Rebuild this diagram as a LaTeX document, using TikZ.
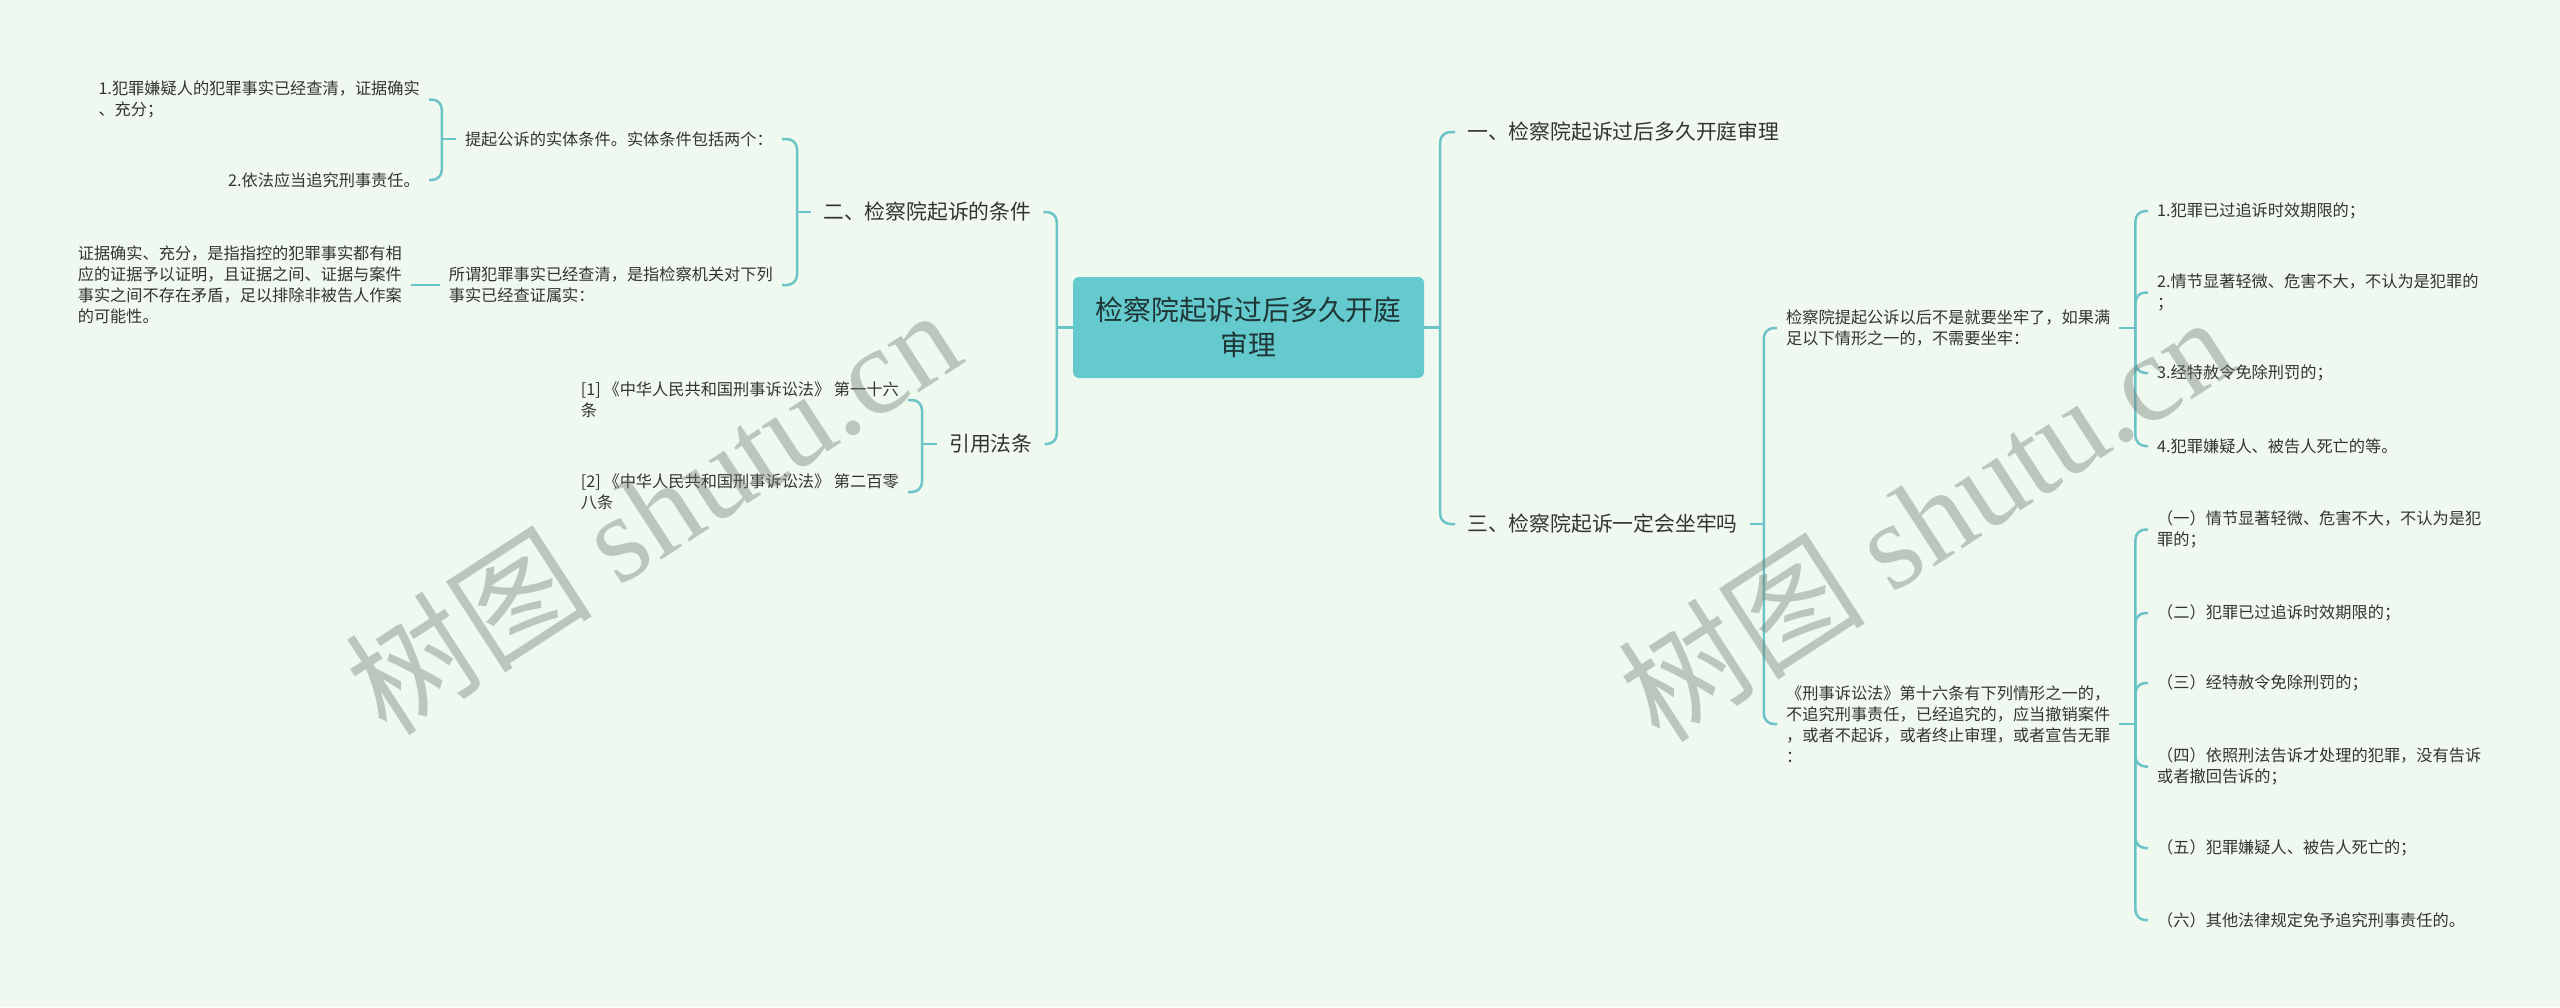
\documentclass[tikz,border=0pt]{standalone}
\usepackage{fontspec}
\setmainfont{Noto Sans CJK SC}
\newfontfamily\wmlatin{Liberation Serif}
\newfontfamily\wmcjk{Noto Sans CJK SC}
\definecolor{bg}{HTML}{F0F9F0}
\definecolor{ln}{HTML}{6CC3C8}
\definecolor{rootfill}{HTML}{64CACD}
\definecolor{roottext}{HTML}{1F3536}
\definecolor{txt}{HTML}{333333}
\definecolor{wm}{HTML}{6E7A72}
\begin{document}
\begin{tikzpicture}[x=1pt,y=-1pt,
  conn/.style={draw=ln,line width=2.5pt,rounded corners=10pt},
  tick/.style={draw=ln,line width=2.5pt},
  leaf/.style={inner xsep=9pt,inner ysep=2pt,align=left,text=txt,font=\fontsize{16.2}{21}\selectfont},
  lvone/.style={inner xsep=12pt,inner ysep=2pt,text=txt,font=\fontsize{20.8}{26}\selectfont},
  rootbox/.style={fill=rootfill,rounded corners=6pt,minimum width=351pt,minimum height=101pt,align=center,text=roottext,font=\fontsize{27.8}{35}\selectfont},
  wmark/.style={rotate=33,text=wm,opacity=0.4}
]
\fill[bg] (0,0) rectangle (2560,1007);
\useasboundingbox (0,0) rectangle (2560,1007);

% root
\node[rootbox] (root) at (1248.5,327.5) {检察院起诉过后多久开庭\\审理};

% level one
\node[lvone,anchor=west] (L1a) at (811,212) {二、检察院起诉的条件};
\node[lvone,anchor=west] (L1b) at (937,444) {引用法条};
\node[lvone,anchor=west] (R1a) at (1455,132) {一、检察院起诉过后多久开庭审理};
\node[lvone,anchor=west] (R1b) at (1455,524) {三、检察院起诉一定会坐牢吗};

% left leaves
\node[leaf,anchor=east] (L2a) at (782,139) {提起公诉的实体条件。实体条件包括两个：};
\node[leaf,anchor=east] (L2b) at (782,285) {所谓犯罪事实已经查清，是指检察机关对下列\\事实已经查证属实：};
\node[leaf,anchor=east] (L3a) at (429,99.5) {1.犯罪嫌疑人的犯罪事实已经查清，证据确实\\、充分；};
\node[leaf,anchor=east] (L3b) at (429,180) {2.依法应当追究刑事责任。};
\node[leaf,anchor=east] (L3c) at (411,285) {证据确实、充分，是指指控的犯罪事实都有相\\应的证据予以证明，且证据之间、证据与案件\\事实之间不存在矛盾，足以排除非被告人作案\\的可能性。};
\node[leaf,anchor=east] (C1) at (908,400) {[1]\,《中华人民共和国刑事诉讼法》 第一十六\\条};
\node[leaf,anchor=east] (C2) at (908,492) {[2]\,《中华人民共和国刑事诉讼法》 第二百零\\八条};

% right leaves
\node[leaf,anchor=west] (R2a) at (1777,328) {检察院提起公诉以后不是就要坐牢了，如果满\\足以下情形之一的，不需要坐牢：};
\node[leaf,anchor=west] (R2b) at (1777,724) {《刑事诉讼法》第十六条有下列情形之一的，\\不追究刑事责任，已经追究的，应当撤销案件\\，或者不起诉，或者终止审理，或者宣告无罪\\：};
\node[leaf,anchor=west] (A1) at (2148,211) {1.犯罪已过追诉时效期限的；};
\node[leaf,anchor=west] (A2) at (2148,292.5) {2.情节显著轻微、危害不大，不认为是犯罪的\\；};
\node[leaf,anchor=west] (A3) at (2148,373) {3.经特赦令免除刑罚的；};
\node[leaf,anchor=west] (A4) at (2148,446) {4.犯罪嫌疑人、被告人死亡的等。};
\node[leaf,anchor=west] (B1) at (2148,529.5) {（一）情节显著轻微、危害不大，不认为是犯\\罪的；};
\node[leaf,anchor=west] (B2) at (2148,613) {（二）犯罪已过追诉时效期限的；};
\node[leaf,anchor=west] (B3) at (2148,683) {（三）经特赦令免除刑罚的；};
\node[leaf,anchor=west] (B4) at (2148,766.5) {（四）依照刑法告诉才处理的犯罪，没有告诉\\或者撤回告诉的；};
\node[leaf,anchor=west] (B5) at (2148,848) {（五）犯罪嫌疑人、被告人死亡的；};
\node[leaf,anchor=west] (B6) at (2148,920) {（六）其他法律规定免予追究刑事责任的。};

% junction coordinates
\path (root.west) ++(-16,0) coordinate (jL);
\path (root.east) ++(16,0) coordinate (jR);
\path (L1a.west) ++(-14,0) coordinate (jL1a);
\path (L1b.west) ++(-15,0) coordinate (jL1b);
\path (L2a.west) ++(-14,0) coordinate (jL2a);
\path (R1b.east) ++(14,0) coordinate (jR1b);
\path (R2a.east) ++(16,0) coordinate (jR2a);
\path (R2b.east) ++(16,0) coordinate (jR2b);

% connectors
\draw[tick] (root.west) -- (jL);
\draw[conn] (jL) |- (L1a.east);
\draw[conn] (jL) |- (L1b.east);
\draw[tick] (root.east) -- (jR);
\draw[conn] (jR) |- (R1a.west);
\draw[conn] (jR) |- (R1b.west);

\draw[tick] (L1a.west) -- (jL1a);
\draw[conn] (jL1a) |- (L2a.east);
\draw[conn] (jL1a) |- (L2b.east);
\draw[tick] (L2a.west) -- (jL2a);
\draw[conn] (jL2a) |- (L3a.east);
\draw[conn] (jL2a) |- (L3b.east);
\draw[tick] (L2b.west) -- (L3c.east);

\draw[tick] (L1b.west) -- (jL1b);
\draw[conn] (jL1b) |- (C1.east);
\draw[conn] (jL1b) |- (C2.east);

\draw[tick] (R1b.east) -- (jR1b);
\draw[conn] (jR1b) |- (R2a.west);
\draw[conn] (jR1b) |- (R2b.west);
\draw[tick] (R2a.east) -- (jR2a);
\foreach \n in {A1,A2,A3,A4} \draw[conn] (jR2a) |- (\n.west);
\draw[tick] (R2b.east) -- (jR2b);
\foreach \n in {B1,B2,B3,B4,B5,B6} \draw[conn] (jR2b) |- (\n.west);

% watermarks
\node[wmark] (wm1) at (652,510) {\fontsize{124}{124}\selectfont{\wmcjk 树图} {\wmlatin shutu.cn}};
\node[wmark] (wm2) at (1925,517) {\fontsize{124}{124}\selectfont{\wmcjk 树图} {\wmlatin shutu.cn}};
\end{tikzpicture}
\end{document}
